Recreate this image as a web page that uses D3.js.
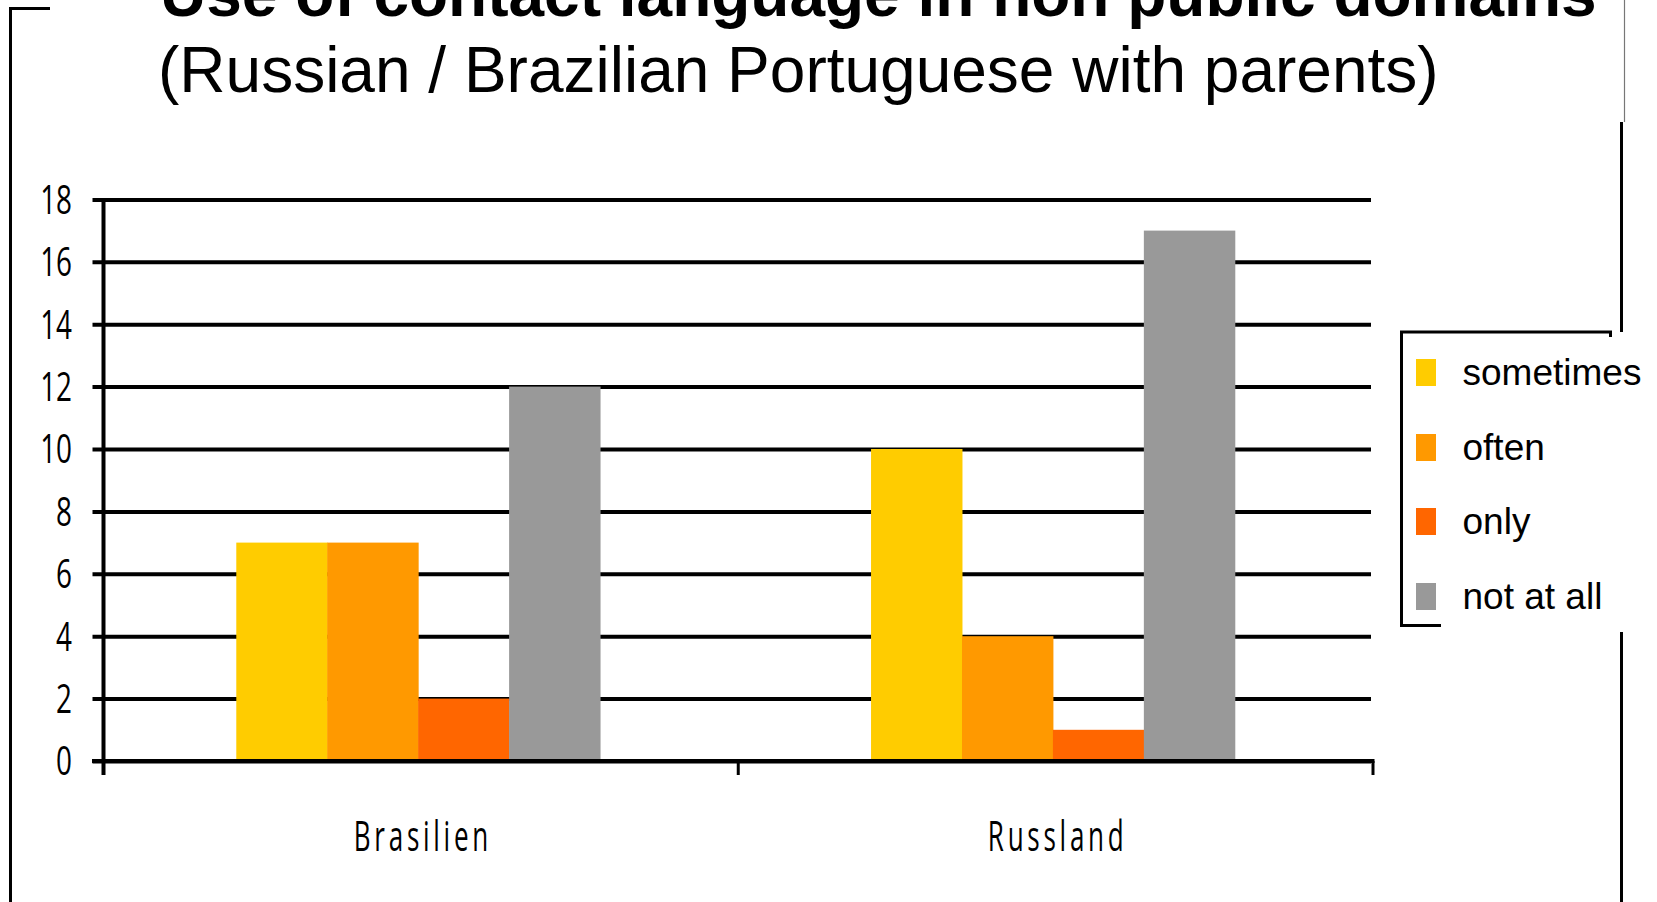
<!DOCTYPE html>
<html>
<head>
<meta charset="utf-8">
<script src="https://cdn.jsdelivr.net/npm/d3@7"></script>
<style>
  html, body { margin: 0; padding: 0; background: #fff; }
  svg { display: block; }
</style>
</head>
<body>
<svg id="chart" width="1657" height="902"></svg>
<script>
// Countries of origin on the x axis
const categories = ["Brasilien", "Russland"];
// Answer options, one bar per option in each group
const series = ["sometimes", "often", "only", "not at all"];
const seriesColors = ["#FFCC00", "#FF9900", "#FF6600", "#999999"];
// Number of respondents per option, in the order of `series`
const brasilienValues = [7, 7, 2, 12];
const russlandValues = [10, 4, 1, 17];
const yTicks = [0, 2, 4, 6, 8, 10, 12, 14, 16, 18];

const titleLine1 = "Use of contact language in non public domains";
const titleLine2 = "(Russian / Brazilian Portuguese with parents)";

const rows = categories.map((c, i) => ({
  category: c,
  values: series.map((s, j) => ({ key: s, value: [brasilienValues, russlandValues][i][j] }))
}));

const svg = d3.select("#chart");
svg.append("rect").attr("width", 1657).attr("height", 902).attr("fill", "#fff");

// Outer frame pieces
const frame = svg.append("g").attr("fill", "none");
frame.append("path").attr("d", "M10.5,902 V8.5 H50").attr("stroke", "#000").attr("stroke-width", 3);
frame.append("line").attr("x1", 1624.5).attr("x2", 1624.5).attr("y1", 0).attr("y2", 122)
  .attr("stroke", "#777").attr("stroke-width", 1.2);
frame.append("line").attr("x1", 1621.5).attr("x2", 1621.5).attr("y1", 122).attr("y2", 337)
  .attr("stroke", "#000").attr("stroke-width", 3);
frame.append("line").attr("x1", 1621.5).attr("x2", 1621.5).attr("y1", 632).attr("y2", 902)
  .attr("stroke", "#000").attr("stroke-width", 3);

// Titles
svg.append("text").attr("x", 160).attr("y", 16)
  .attr("font-family", "Liberation Sans, Arial, sans-serif").attr("font-weight", "bold")
  .attr("font-size", 64).attr("fill", "#000").text(titleLine1);
svg.append("text").attr("x", 158).attr("y", 92)
  .attr("font-family", "Liberation Sans, Arial, sans-serif")
  .attr("font-size", 64).attr("fill", "#000").text(titleLine2);

// Scales
const plotLeft = 103.5, plotRight = 1373, baseY = 761;
const x = d3.scaleBand().domain(categories).range([plotLeft, plotRight]).padding(0);
const xInner = d3.scaleBand().domain(series).range([0, x.bandwidth()])
  .paddingInner(0).paddingOuter(1.49).align(0.49);
const y = d3.scaleLinear().domain([0, 18]).range([baseY, baseY - 18 * 31.2]);
const color = d3.scaleOrdinal().domain(series).range(seriesColors);

// Horizontal gridlines with the y axis tick labels
const yAxis = svg.append("g").attr("transform", `translate(${plotLeft},0)`)
  .call(d3.axisLeft(y).tickValues(yTicks).tickSizeInner(-(1371 - plotLeft)).tickSizeOuter(0).tickPadding(0));
yAxis.select(".domain").remove();
yAxis.selectAll(".tick line").attr("x1", -11).attr("stroke", "#000").attr("stroke-width", 4);
yAxis.selectAll(".tick text")
  .attr("x", null).attr("dy", "0.34em")
  .attr("transform", "translate(-31.5,0) scale(0.68,1)")
  .attr("font-family", "Open Sans, sans-serif").attr("font-size", 41).attr("fill", "#000");

// Bars
const groups = svg.append("g").selectAll("g").data(rows).join("g")
  .attr("transform", d => `translate(${x(d.category)},0)`);
groups.selectAll("rect").data(d => d.values).join("rect")
  .attr("x", d => xInner(d.key))
  .attr("width", xInner.bandwidth() + 0.5)
  .attr("y", d => y(d.value))
  .attr("height", d => baseY - y(d.value))
  .attr("fill", d => color(d.key));

// Vertical axis line (runs slightly below zero)
svg.append("line").attr("x1", plotLeft).attr("x2", plotLeft).attr("y1", y(18)).attr("y2", 775)
  .attr("stroke", "#000").attr("stroke-width", 4);

// Category axis
svg.append("line").attr("x1", 92).attr("x2", plotRight + 1.5).attr("y1", baseY).attr("y2", baseY)
  .attr("stroke", "#000").attr("stroke-width", 4);
const boundaries = categories.map(c => x(c)).concat([x(categories[categories.length - 1]) + x.bandwidth()]);
svg.append("g").selectAll("line").data(boundaries.slice(1)).join("line")
  .attr("x1", d => d).attr("x2", d => d).attr("y1", baseY).attr("y2", 775)
  .attr("stroke", "#000").attr("stroke-width", 3);

const xAxis = svg.append("g").attr("transform", `translate(0,${baseY})`)
  .call(d3.axisBottom(x).tickSize(0).tickPadding(0));
xAxis.select(".domain").remove();
xAxis.selectAll(".tick text")
  .attr("y", null).attr("dy", null)
  .attr("transform", "translate(2,90) scale(0.62,1)")
  .attr("font-family", "Open Sans, sans-serif").attr("font-size", 42)
  .attr("letter-spacing", 6).attr("fill", "#000");

// Legend
const legend = svg.append("g");
legend.append("rect").attr("x", 1401).attr("y", 332).attr("width", 256).attr("height", 294).attr("fill", "#fff");
legend.append("path").attr("d", "M1441,625.5 H1401.5 V332 H1610.5 V337")
  .attr("fill", "none").attr("stroke", "#000").attr("stroke-width", 3);
const legendBaselines = [385, 460, 534, 609];
const items = legend.selectAll("g.item").data(series).join("g").attr("class", "item")
  .attr("transform", (d, i) => `translate(0,${legendBaselines[i]})`);
items.append("rect").attr("x", 1416).attr("y", -26).attr("width", 20).attr("height", 27)
  .attr("fill", d => color(d));
items.append("text").attr("x", 1462.5).attr("y", 0)
  .attr("font-family", "Liberation Sans, Arial, sans-serif").attr("font-size", 37)
  .attr("fill", "#000").text(d => d);
</script>
</body>
</html>
